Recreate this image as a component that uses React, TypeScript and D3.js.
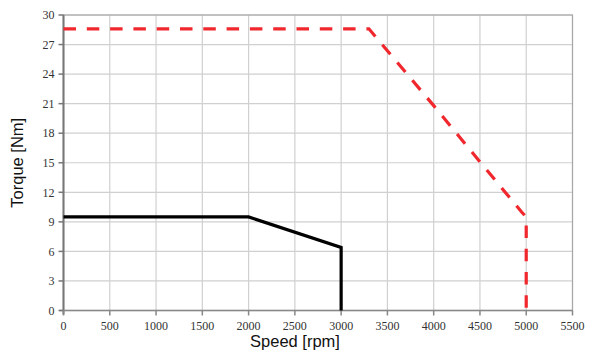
import React from "react";
import * as d3 from "d3";

const xTicks = [0, 500, 1000, 1500, 2000, 2500, 3000, 3500, 4000, 4500, 5000, 5500];
const yTicks = [0, 3, 6, 9, 12, 15, 18, 21, 24, 27, 30];
const redSpeed = [0, 3300, 4000, 4500, 4950, 5000, 5000];
const redTorque = [28.6, 28.6, 20.8, 15.1, 10.0, 9.5, 0];
const blackSpeed = [0, 2000, 3000, 3000];
const blackTorque = [9.5, 9.5, 6.4, 0];
const xTitle = "Speed [rpm]";
const yTitle = "Torque [Nm]";

export default function App() {
  const W = 595, H = 355;
  const L = 63.5, R = 572.5, T = 15, B = 310.5;
  const x = d3.scaleLinear().domain([0, 5500]).range([L, R]);
  const y = d3.scaleLinear().domain([0, 30]).range([B, T]);
  const line = d3.line<[number, number]>().x(d => x(d[0])).y(d => y(d[1]));
  const red = line(redSpeed.map((s, i) => [s, redTorque[i]] as [number, number])) || "";
  const black = line(blackSpeed.map((s, i) => [s, blackTorque[i]] as [number, number])) || "";
  return (
    <svg width={W} height={H} style={{ position: "absolute", left: 0, top: 0, background: "#fff" }}>
      <rect x={0} y={0} width={W} height={H} fill="#fff" />
      {xTicks.map(t => (
        <line key={"gx" + t} x1={x(t)} x2={x(t)} y1={T} y2={B} stroke="#d0d0d0" strokeWidth={1.2} />
      ))}
      {yTicks.map(t => (
        <line key={"gy" + t} x1={L} x2={R} y1={y(t)} y2={y(t)} stroke="#d0d0d0" strokeWidth={1.2} />
      ))}
      <rect x={L} y={T} width={R - L} height={B - T} fill="none" stroke="#a8a8a8" strokeWidth={1.2} />
      <line x1={L} x2={L} y1={T} y2={B + 4} stroke="#777" strokeWidth={2} />
      <line x1={L - 4} x2={R} y1={B} y2={B} stroke="#888" strokeWidth={1.5} />
      {yTicks.map(t => (
        <line key={"ty" + t} x1={L - 5} x2={L} y1={y(t)} y2={y(t)} stroke="#777" strokeWidth={1.5} />
      ))}
      {xTicks.map(t => (
        <line key={"tx" + t} x1={x(t)} x2={x(t)} y1={B} y2={B + 5} stroke="#888" strokeWidth={1.5} />
      ))}
      <path d={black} fill="none" stroke="#000" strokeWidth={3.2} strokeLinejoin="miter" />
      <path d={red} fill="none" stroke="#f0272d" strokeWidth={3.2} strokeDasharray="12.5,10.8" />
      {yTicks.map(t => (
        <text key={"ly" + t} x={L - 9} y={y(t)} dy="0.35em" textAnchor="end"
          fontFamily="Liberation Serif, serif" fontSize={12} fill="#333">{t}</text>
      ))}
      {xTicks.map(t => (
        <text key={"lx" + t} x={x(t)} y={B + 19} textAnchor="middle"
          fontFamily="Liberation Serif, serif" fontSize={12} fill="#333">{t}</text>
      ))}
      <text x={295} y={347} textAnchor="middle" fontFamily="Liberation Sans, Arial, sans-serif"
        fontSize={16.5} fill="#111">{xTitle}</text>
      <text transform={`translate(23,${(T + B) / 2}) rotate(-90)`} textAnchor="middle"
        fontFamily="Liberation Sans, Arial, sans-serif" fontSize={16.5} fill="#111">{yTitle}</text>
    </svg>
  );
}
